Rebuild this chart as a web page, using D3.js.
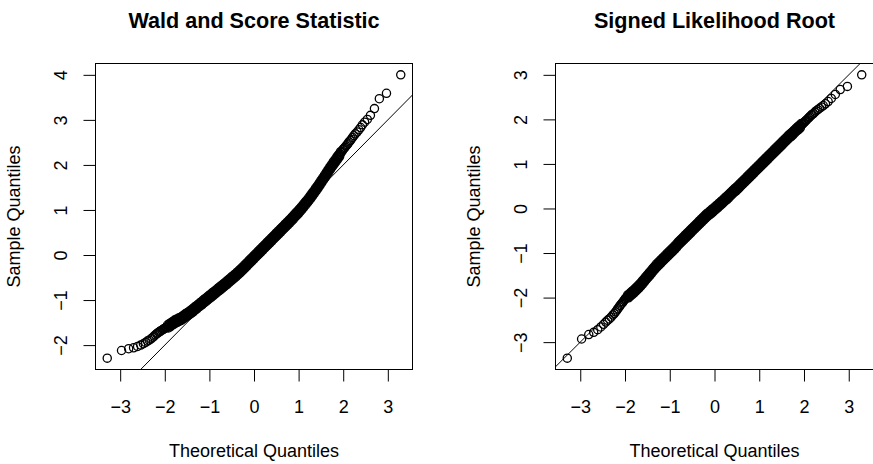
<html>

<head>
    <meta charset="utf-8">
    <script src="https://d3js.org/d3.v7.min.js"></script>
    <style>
        body {
            margin: 0;
            background: #fff;
        }

        svg text {
            font-family: "Liberation Sans", Arial, Helvetica, sans-serif;
        }
    </style>
</head>

<body>
    <svg id="qq_svg" width="873" height="464"></svg>
    <script>
        // titles, ticks and the [theoretical, sample] quantile pairs
        const titles = ["Wald and Score Statistic", "Signed Likelihood Root"];
        const xLabel = "Theoretical Quantiles";
        const yLabel = "Sample Quantiles";
        const xTicks = [-3, -2, -1, 0, 1, 2, 3];
        const waldYTicks = [-2, -1, 0, 1, 2, 3, 4];
        const slrYTicks = [-3, -2, -1, 0, 1, 2, 3];

        const waldPoints = [
            [-3.29, -2.29], [-2.97, -2.12], [-2.81, -2.08], [-2.70, -2.06], [-2.61, -2.03], [-2.54, -2.00], [-2.48, -1.97], [-2.43, -1.94],
            [-2.39, -1.91], [-2.35, -1.89], [-2.31, -1.86], [-2.27, -1.83], [-2.24, -1.80], [-2.21, -1.77], [-2.18, -1.75], [-2.16, -1.73],
            [-2.13, -1.71], [-2.11, -1.70], [-2.09, -1.68], [-2.06, -1.67], [-2.04, -1.65], [-2.02, -1.64], [-2.00, -1.63], [-1.99, -1.62],
            [-1.97, -1.61],
            [-1.95, -1.60], [-1.93, -1.59], [-1.91, -1.57], [-1.89, -1.56], [-1.87, -1.55], [-1.85, -1.53], [-1.83, -1.52], [-1.81, -1.51],
            [-1.79, -1.49], [-1.77, -1.48], [-1.75, -1.47], [-1.73, -1.46], [-1.71, -1.45], [-1.69, -1.44], [-1.67, -1.43], [-1.65, -1.42],
            [-1.63, -1.41], [-1.61, -1.40], [-1.59, -1.38], [-1.57, -1.37], [-1.55, -1.35], [-1.53, -1.34], [-1.51, -1.33], [-1.49, -1.31],
            [-1.47, -1.30], [-1.45, -1.29], [-1.43, -1.27], [-1.41, -1.26], [-1.39, -1.24], [-1.37, -1.23], [-1.35, -1.21], [-1.33, -1.19],
            [-1.31, -1.18], [-1.29, -1.16], [-1.27, -1.15], [-1.25, -1.13], [-1.23, -1.11], [-1.21, -1.10], [-1.19, -1.08], [-1.17, -1.07],
            [-1.15, -1.05], [-1.13, -1.03], [-1.11, -1.02], [-1.09, -1.00], [-1.07, -0.99], [-1.05, -0.97], [-1.03, -0.95], [-1.01, -0.94],
            [-0.99, -0.92], [-0.97, -0.91], [-0.95, -0.89], [-0.93, -0.87], [-0.91, -0.86], [-0.89, -0.84], [-0.87, -0.83], [-0.85, -0.81],
            [-0.83, -0.79], [-0.81, -0.78], [-0.79, -0.76], [-0.77, -0.75], [-0.75, -0.73], [-0.73, -0.71], [-0.71, -0.70], [-0.69, -0.68],
            [-0.67, -0.67], [-0.65, -0.65], [-0.63, -0.63], [-0.61, -0.62], [-0.59, -0.60], [-0.57, -0.58], [-0.55, -0.57], [-0.53, -0.55],
            [-0.51, -0.53], [-0.49, -0.51], [-0.47, -0.50], [-0.45, -0.48], [-0.43, -0.47], [-0.41, -0.45], [-0.39, -0.43], [-0.37, -0.41],
            [-0.35, -0.39], [-0.33, -0.38], [-0.31, -0.36], [-0.29, -0.34], [-0.27, -0.32], [-0.25, -0.30], [-0.23, -0.28], [-0.21, -0.26],
            [-0.19, -0.24], [-0.17, -0.22], [-0.15, -0.20], [-0.13, -0.18], [-0.11, -0.16], [-0.09, -0.14], [-0.07, -0.12], [-0.05, -0.10],
            [-0.03, -0.08], [-0.01, -0.06], [0.01, -0.04], [0.03, -0.02], [0.05, 0.00], [0.07, 0.02], [0.09, 0.04], [0.11, 0.06],
            [0.13, 0.08], [0.15, 0.10], [0.17, 0.12], [0.19, 0.14], [0.21, 0.16], [0.23, 0.18], [0.25, 0.20], [0.27, 0.22],
            [0.29, 0.24], [0.31, 0.26], [0.33, 0.28], [0.35, 0.30], [0.37, 0.32], [0.39, 0.34], [0.41, 0.36], [0.43, 0.38],
            [0.45, 0.40], [0.47, 0.42], [0.49, 0.44], [0.51, 0.46], [0.53, 0.48], [0.55, 0.50], [0.57, 0.52], [0.59, 0.54],
            [0.61, 0.56], [0.63, 0.58], [0.65, 0.60], [0.67, 0.62], [0.69, 0.64], [0.71, 0.66], [0.73, 0.68], [0.75, 0.70],
            [0.77, 0.72], [0.79, 0.74], [0.81, 0.76], [0.83, 0.78], [0.85, 0.80], [0.87, 0.82], [0.89, 0.84], [0.91, 0.87],
            [0.93, 0.89], [0.95, 0.91], [0.97, 0.93], [0.99, 0.95], [1.01, 0.97], [1.03, 1.00], [1.05, 1.02], [1.07, 1.04],
            [1.09, 1.07], [1.11, 1.09], [1.13, 1.12], [1.15, 1.14], [1.17, 1.16], [1.19, 1.19], [1.21, 1.21], [1.23, 1.24],
            [1.25, 1.27], [1.27, 1.29], [1.29, 1.32], [1.31, 1.35], [1.33, 1.37], [1.35, 1.40], [1.37, 1.43], [1.39, 1.46],
            [1.41, 1.48], [1.43, 1.51], [1.45, 1.54], [1.47, 1.57], [1.49, 1.60], [1.51, 1.63], [1.53, 1.66], [1.55, 1.69],
            [1.57, 1.72], [1.59, 1.75], [1.61, 1.78], [1.63, 1.81], [1.65, 1.84], [1.67, 1.87], [1.69, 1.90], [1.71, 1.93],
            [1.73, 1.96], [1.75, 1.99], [1.77, 2.02], [1.79, 2.05], [1.81, 2.07], [1.83, 2.10], [1.85, 2.13], [1.87, 2.16],
            [1.89, 2.18], [1.91, 2.21], [1.93, 2.24], [1.95, 2.27],
            [1.97, 2.30], [1.99, 2.33], [2.00, 2.35], [2.02, 2.37], [2.04, 2.39], [2.06, 2.42], [2.09, 2.45], [2.11, 2.48],
            [2.13, 2.51], [2.16, 2.54], [2.18, 2.57], [2.21, 2.61], [2.24, 2.65], [2.27, 2.69], [2.31, 2.73], [2.35, 2.78],
            [2.39, 2.83], [2.43, 2.89], [2.48, 2.95], [2.54, 3.01], [2.61, 3.10], [2.70, 3.25], [2.81, 3.47], [2.97, 3.59],
            [3.29, 4.00]
        ];

        // points in the thick middle of the band, scattered above and below its centre
        const waldMid = [
            [-1.94, -1.555], [-1.92, -1.62], [-1.90, -1.525], [-1.88, -1.595], [-1.86, -1.50], [-1.84, -1.565], [-1.82, -1.475], [-1.80, -1.54],
            [-1.78, -1.445], [-1.76, -1.515], [-1.74, -1.425], [-1.72, -1.495], [-1.70, -1.405], [-1.68, -1.475], [-1.66, -1.385], [-1.64, -1.455],
            [-1.62, -1.365], [-1.60, -1.43], [-1.58, -1.335], [-1.56, -1.40], [-1.54, -1.305], [-1.52, -1.375], [-1.50, -1.28], [-1.48, -1.345],
            [-1.46, -1.255], [-1.44, -1.32], [-1.42, -1.225], [-1.40, -1.29], [-1.38, -1.195], [-1.36, -1.26], [-1.34, -1.16], [-1.32, -1.225],
            [-1.30, -1.13], [-1.28, -1.195], [-1.26, -1.10], [-1.24, -1.16], [-1.22, -1.065], [-1.20, -1.13], [-1.18, -1.035], [-1.16, -1.10],
            [-1.14, -1.00], [-1.12, -1.065], [-1.10, -0.97], [-1.08, -1.035], [-1.06, -0.94], [-1.04, -1.00], [-1.02, -0.905], [-1.00, -0.97],
            [-0.98, -0.875], [-0.96, -0.94], [-0.94, -0.84], [-0.92, -0.905], [-0.90, -0.81], [-0.88, -0.875], [-0.86, -0.78], [-0.84, -0.84],
            [-0.82, -0.745], [-0.80, -0.81], [-0.78, -0.715], [-0.76, -0.78], [-0.74, -0.68], [-0.72, -0.745], [-0.70, -0.65], [-0.68, -0.715],
            [-0.66, -0.62], [-0.64, -0.68], [-0.62, -0.585], [-0.60, -0.65], [-0.58, -0.55], [-0.56, -0.615], [-0.54, -0.52], [-0.52, -0.58],
            [-0.50, -0.48], [-0.48, -0.545], [-0.46, -0.45], [-0.44, -0.515], [-0.42, -0.42], [-0.40, -0.48], [-0.38, -0.38], [-0.36, -0.44],
            [-0.34, -0.345], [-0.32, -0.41], [-0.30, -0.31], [-0.28, -0.37], [-0.26, -0.27], [-0.24, -0.33], [-0.22, -0.23], [-0.20, -0.29],
            [-0.18, -0.19], [-0.16, -0.25], [-0.14, -0.15], [-0.12, -0.21], [-0.10, -0.11], [-0.08, -0.17], [-0.06, -0.07], [-0.04, -0.13],
            [-0.02, -0.03], [0.00, -0.09], [0.02, 0.01], [0.04, -0.05], [0.06, 0.05], [0.08, -0.01], [0.10, 0.09], [0.12, 0.03],
            [0.14, 0.13], [0.16, 0.07], [0.18, 0.17], [0.20, 0.11], [0.22, 0.21], [0.24, 0.15], [0.26, 0.25], [0.28, 0.19],
            [0.30, 0.29], [0.32, 0.23], [0.34, 0.33], [0.36, 0.27], [0.38, 0.37], [0.40, 0.31], [0.42, 0.41], [0.44, 0.35],
            [0.46, 0.45], [0.48, 0.39], [0.50, 0.49], [0.52, 0.43], [0.54, 0.53], [0.56, 0.47], [0.58, 0.57], [0.60, 0.51],
            [0.62, 0.61], [0.64, 0.55], [0.66, 0.65], [0.68, 0.59], [0.70, 0.69], [0.72, 0.63], [0.74, 0.73], [0.76, 0.67],
            [0.78, 0.77], [0.80, 0.71], [0.82, 0.81], [0.84, 0.75], [0.86, 0.85], [0.88, 0.79], [0.90, 0.895], [0.92, 0.84],
            [0.94, 0.94], [0.96, 0.88], [0.98, 0.98], [1.00, 0.92], [1.02, 1.025], [1.04, 0.97], [1.06, 1.07], [1.08, 1.015],
            [1.10, 1.12], [1.12, 1.065], [1.14, 1.17], [1.16, 1.11], [1.18, 1.215], [1.20, 1.16], [1.22, 1.265], [1.24, 1.215],
            [1.26, 1.32], [1.28, 1.265], [1.30, 1.375], [1.32, 1.32], [1.34, 1.425], [1.36, 1.375], [1.38, 1.485], [1.40, 1.43],
            [1.42, 1.535], [1.44, 1.485], [1.46, 1.595], [1.48, 1.545], [1.50, 1.655], [1.52, 1.605], [1.54, 1.715], [1.56, 1.665],
            [1.58, 1.775], [1.60, 1.725], [1.62, 1.835], [1.64, 1.785], [1.66, 1.895], [1.68, 1.845], [1.70, 1.955], [1.72, 1.905],
            [1.74, 2.015], [1.76, 1.965], [1.78, 2.075], [1.80, 2.02], [1.82, 2.125], [1.84, 2.075], [1.86, 2.185], [1.88, 2.13],
            [1.90, 2.235], [1.92, 2.185], [1.94, 2.295]
        ];

        const slrPoints = [
            [-3.29, -3.36], [-2.97, -2.93], [-2.81, -2.83], [-2.70, -2.78], [-2.61, -2.72], [-2.54, -2.66], [-2.48, -2.60], [-2.43, -2.55],
            [-2.39, -2.51], [-2.35, -2.48], [-2.31, -2.44], [-2.27, -2.39], [-2.24, -2.36], [-2.21, -2.32], [-2.18, -2.28], [-2.16, -2.25],
            [-2.13, -2.21], [-2.11, -2.18], [-2.09, -2.15], [-2.06, -2.12], [-2.04, -2.09], [-2.02, -2.06], [-2.00, -2.04], [-1.99, -2.02],
            [-1.97, -2.00],
            [-1.95, -1.99], [-1.93, -1.97], [-1.91, -1.96], [-1.89, -1.94], [-1.87, -1.92], [-1.85, -1.90], [-1.83, -1.89], [-1.81, -1.87],
            [-1.79, -1.85], [-1.77, -1.83], [-1.75, -1.81], [-1.73, -1.79], [-1.71, -1.77], [-1.69, -1.75], [-1.67, -1.73], [-1.65, -1.71],
            [-1.63, -1.68], [-1.61, -1.66], [-1.59, -1.64], [-1.57, -1.61], [-1.55, -1.59], [-1.53, -1.56], [-1.51, -1.54], [-1.49, -1.52],
            [-1.47, -1.49], [-1.45, -1.47], [-1.43, -1.45], [-1.41, -1.42], [-1.39, -1.40], [-1.37, -1.37], [-1.35, -1.35], [-1.33, -1.33],
            [-1.31, -1.30], [-1.29, -1.28], [-1.27, -1.26], [-1.25, -1.24], [-1.23, -1.22], [-1.21, -1.20], [-1.19, -1.18], [-1.17, -1.16],
            [-1.15, -1.14], [-1.13, -1.12], [-1.11, -1.10], [-1.09, -1.08], [-1.07, -1.06], [-1.05, -1.04], [-1.03, -1.02], [-1.01, -1.00],
            [-0.99, -0.98], [-0.97, -0.96], [-0.95, -0.94], [-0.93, -0.92], [-0.91, -0.90], [-0.89, -0.88], [-0.87, -0.86], [-0.85, -0.84],
            [-0.83, -0.81], [-0.81, -0.79], [-0.79, -0.77], [-0.77, -0.75], [-0.75, -0.73], [-0.73, -0.71], [-0.71, -0.69], [-0.69, -0.67],
            [-0.67, -0.65], [-0.65, -0.63], [-0.63, -0.61], [-0.61, -0.59], [-0.59, -0.57], [-0.57, -0.55], [-0.55, -0.53], [-0.53, -0.51],
            [-0.51, -0.49], [-0.49, -0.47], [-0.47, -0.45], [-0.45, -0.43], [-0.43, -0.41], [-0.41, -0.39], [-0.39, -0.37], [-0.37, -0.35],
            [-0.35, -0.33], [-0.33, -0.31], [-0.31, -0.29], [-0.29, -0.27], [-0.27, -0.25], [-0.25, -0.23], [-0.23, -0.21], [-0.21, -0.19],
            [-0.19, -0.17], [-0.17, -0.15], [-0.15, -0.14], [-0.13, -0.12], [-0.11, -0.10], [-0.09, -0.09], [-0.07, -0.07], [-0.05, -0.05],
            [-0.03, -0.04], [-0.01, -0.02], [0.01, 0.00], [0.03, 0.02], [0.05, 0.03], [0.07, 0.05], [0.09, 0.07], [0.11, 0.09],
            [0.13, 0.11], [0.15, 0.12], [0.17, 0.14], [0.19, 0.16], [0.21, 0.18], [0.23, 0.20], [0.25, 0.22], [0.27, 0.23],
            [0.29, 0.25], [0.31, 0.27], [0.33, 0.29], [0.35, 0.31], [0.37, 0.33], [0.39, 0.35], [0.41, 0.37], [0.43, 0.39],
            [0.45, 0.41], [0.47, 0.42], [0.49, 0.44], [0.51, 0.46], [0.53, 0.48], [0.55, 0.50], [0.57, 0.52], [0.59, 0.54],
            [0.61, 0.56], [0.63, 0.58], [0.65, 0.60], [0.67, 0.62], [0.69, 0.64], [0.71, 0.66], [0.73, 0.68], [0.75, 0.70],
            [0.77, 0.72], [0.79, 0.74], [0.81, 0.76], [0.83, 0.78], [0.85, 0.80], [0.87, 0.82], [0.89, 0.84], [0.91, 0.86],
            [0.93, 0.88], [0.95, 0.90], [0.97, 0.92], [0.99, 0.94], [1.01, 0.96], [1.03, 0.98], [1.05, 1.00], [1.07, 1.02],
            [1.09, 1.04], [1.11, 1.06], [1.13, 1.08], [1.15, 1.10], [1.17, 1.12], [1.19, 1.14], [1.21, 1.16], [1.23, 1.18],
            [1.25, 1.20], [1.27, 1.22], [1.29, 1.24], [1.31, 1.26], [1.33, 1.28], [1.35, 1.30], [1.37, 1.32], [1.39, 1.34],
            [1.41, 1.36], [1.43, 1.38], [1.45, 1.40], [1.47, 1.42], [1.49, 1.44], [1.51, 1.46], [1.53, 1.48], [1.55, 1.50],
            [1.57, 1.52], [1.59, 1.54], [1.61, 1.56], [1.63, 1.58], [1.65, 1.60], [1.67, 1.62], [1.69, 1.64], [1.71, 1.65],
            [1.73, 1.67], [1.75, 1.69], [1.77, 1.71], [1.79, 1.73], [1.81, 1.75], [1.83, 1.77], [1.85, 1.79], [1.87, 1.80],
            [1.89, 1.82], [1.91, 1.84], [1.93, 1.86], [1.95, 1.88],
            [1.97, 1.90], [1.99, 1.92], [2.00, 1.93], [2.02, 1.95], [2.04, 1.97], [2.06, 1.99], [2.09, 2.02], [2.11, 2.04],
            [2.13, 2.06], [2.16, 2.09], [2.18, 2.11], [2.21, 2.13], [2.24, 2.16], [2.27, 2.19], [2.31, 2.22], [2.35, 2.25],
            [2.39, 2.28], [2.43, 2.31], [2.48, 2.35], [2.54, 2.40], [2.61, 2.47], [2.70, 2.56], [2.81, 2.67], [2.97, 2.74],
            [3.29, 3.00]
        ];

        const slrMid = [
            [-1.94, -1.94], [-1.92, -2.005], [-1.90, -1.91], [-1.88, -1.97], [-1.86, -1.87], [-1.84, -1.935], [-1.82, -1.84], [-1.80, -1.90],
            [-1.78, -1.80], [-1.76, -1.86], [-1.74, -1.76], [-1.72, -1.82], [-1.70, -1.72], [-1.68, -1.78], [-1.66, -1.68], [-1.64, -1.735],
            [-1.62, -1.63], [-1.60, -1.69], [-1.58, -1.585], [-1.56, -1.64], [-1.54, -1.535], [-1.52, -1.59], [-1.50, -1.49], [-1.48, -1.545],
            [-1.46, -1.44], [-1.44, -1.50], [-1.42, -1.395], [-1.40, -1.45], [-1.38, -1.345], [-1.36, -1.40], [-1.34, -1.30], [-1.32, -1.355],
            [-1.30, -1.25], [-1.28, -1.31], [-1.26, -1.21], [-1.24, -1.27], [-1.22, -1.17], [-1.20, -1.23], [-1.18, -1.13], [-1.16, -1.19],
            [-1.14, -1.09], [-1.12, -1.15], [-1.10, -1.05], [-1.08, -1.11], [-1.06, -1.01], [-1.04, -1.07], [-1.02, -0.97], [-1.00, -1.03],
            [-0.98, -0.93], [-0.96, -0.99], [-0.94, -0.89], [-0.92, -0.95], [-0.90, -0.85], [-0.88, -0.91], [-0.86, -0.81], [-0.84, -0.865],
            [-0.82, -0.76], [-0.80, -0.82], [-0.78, -0.72], [-0.76, -0.78], [-0.74, -0.68], [-0.72, -0.74], [-0.70, -0.64], [-0.68, -0.70],
            [-0.66, -0.60], [-0.64, -0.66], [-0.62, -0.56], [-0.60, -0.62], [-0.58, -0.52], [-0.56, -0.58], [-0.54, -0.48], [-0.52, -0.54],
            [-0.50, -0.44], [-0.48, -0.50], [-0.46, -0.40], [-0.44, -0.46], [-0.42, -0.36], [-0.40, -0.42], [-0.38, -0.32], [-0.36, -0.38],
            [-0.34, -0.28], [-0.32, -0.34], [-0.30, -0.24], [-0.28, -0.30], [-0.26, -0.20], [-0.24, -0.26], [-0.22, -0.16], [-0.20, -0.22],
            [-0.18, -0.12], [-0.16, -0.185], [-0.14, -0.09], [-0.12, -0.15], [-0.10, -0.055], [-0.08, -0.12], [-0.06, -0.02], [-0.04, -0.085],
            [-0.02, 0.01], [0.00, -0.05], [0.02, 0.05], [0.04, -0.015], [0.06, 0.08], [0.08, 0.02], [0.10, 0.12], [0.12, 0.06],
            [0.14, 0.155], [0.16, 0.09], [0.18, 0.19], [0.20, 0.13], [0.22, 0.23], [0.24, 0.17], [0.26, 0.265], [0.28, 0.20],
            [0.30, 0.30], [0.32, 0.24], [0.34, 0.34], [0.36, 0.28], [0.38, 0.38], [0.40, 0.32], [0.42, 0.42], [0.44, 0.36],
            [0.46, 0.455], [0.48, 0.39], [0.50, 0.49], [0.52, 0.43], [0.54, 0.53], [0.56, 0.47], [0.58, 0.57], [0.60, 0.51],
            [0.62, 0.61], [0.64, 0.55], [0.66, 0.65], [0.68, 0.59], [0.70, 0.69], [0.72, 0.63], [0.74, 0.73], [0.76, 0.67],
            [0.78, 0.77], [0.80, 0.71], [0.82, 0.81], [0.84, 0.75], [0.86, 0.85], [0.88, 0.79], [0.90, 0.89], [0.92, 0.83],
            [0.94, 0.93], [0.96, 0.87], [0.98, 0.97], [1.00, 0.91], [1.02, 1.01], [1.04, 0.95], [1.06, 1.05], [1.08, 0.99],
            [1.10, 1.09], [1.12, 1.03], [1.14, 1.13], [1.16, 1.07], [1.18, 1.17], [1.20, 1.11], [1.22, 1.21], [1.24, 1.15],
            [1.26, 1.25], [1.28, 1.19], [1.30, 1.29], [1.32, 1.23], [1.34, 1.33], [1.36, 1.27], [1.38, 1.37], [1.40, 1.31],
            [1.42, 1.41], [1.44, 1.35], [1.46, 1.45], [1.48, 1.39], [1.50, 1.49], [1.52, 1.43], [1.54, 1.53], [1.56, 1.47],
            [1.58, 1.57], [1.60, 1.51], [1.62, 1.61], [1.64, 1.55], [1.66, 1.65], [1.68, 1.59], [1.70, 1.685], [1.72, 1.62],
            [1.74, 1.72], [1.76, 1.66], [1.78, 1.76], [1.80, 1.70], [1.82, 1.80], [1.84, 1.74], [1.86, 1.835], [1.88, 1.77],
            [1.90, 1.87], [1.92, 1.81], [1.94, 1.91]
        ];

        // reference line y = a + b*x (abline)
        const refLine = { intercept: 0, slope: 1 };

        const svg = d3.select("#qq_svg");
        const plotTop = 63.5, plotBottom = 369.5;
        const panels = [
            { title: titles[0], points: waldPoints.concat(waldMid), yTicks: waldYTicks, left: 95.5, right: 412.5 },
            { title: titles[1], points: slrPoints.concat(slrMid), yTicks: slrYTicks, left: 555.5, right: 873.5 }
        ];

        // R pads the data range by 4% on each side
        function padRange(vals) {
            const ext = d3.extent(vals);
            const d = (ext[1] - ext[0]) * 0.04;
            return [ext[0] - d, ext[1] + d];
        }

        const fmt = d3.format("d");

        panels.forEach((p, i) => {
            const xScale = d3.scaleLinear().domain(padRange(p.points.map(d => d[0]))).range([p.left, p.right]);
            const yScale = d3.scaleLinear().domain(padRange(p.points.map(d => d[1]))).range([plotBottom, plotTop]);
            const midX = (p.left + p.right) / 2;

            const g = svg.append("g");

            g.append("clipPath").attr("id", "clip" + i)
                .append("rect")
                .attr("x", p.left).attr("y", plotTop)
                .attr("width", p.right - p.left).attr("height", plotBottom - plotTop);

            // points
            g.append("g")
                .selectAll("circle")
                .data(p.points)
                .join("circle")
                .attr("cx", d => xScale(d[0]))
                .attr("cy", d => yScale(d[1]))
                .attr("r", 4.1)
                .attr("fill", "none")
                .attr("stroke", "black")
                .attr("stroke-width", 1.3);

            // reference line
            const xd = xScale.domain();
            g.append("line")
                .attr("clip-path", "url(#clip" + i + ")")
                .attr("x1", xScale(xd[0])).attr("y1", yScale(refLine.intercept + refLine.slope * xd[0]))
                .attr("x2", xScale(xd[1])).attr("y2", yScale(refLine.intercept + refLine.slope * xd[1]))
                .attr("stroke", "black")
                .attr("stroke-width", 1);

            // box
            g.append("rect")
                .attr("x", p.left).attr("y", plotTop)
                .attr("width", p.right - p.left).attr("height", plotBottom - plotTop)
                .attr("fill", "none")
                .attr("stroke", "black")
                .attr("stroke-width", 1);

            // x axis
            let bottomAxis = d3.axisBottom(xScale).tickValues(xTicks).tickSize(12).tickFormat(fmt);
            let xa = g.append("g")
                .attr("transform", "translate(0," + plotBottom + ")")
                .call(bottomAxis);
            xa.select(".domain").remove();
            xa.selectAll("text")
                .attr("y", 43).attr("dy", 0)
                .attr("font-size", 18).attr("font-family", null)
                .attr("fill", "black");

            // y axis, labels parallel to the axis
            let leftAxis = d3.axisLeft(yScale).tickValues(p.yTicks).tickSize(12).tickFormat(fmt);
            let ya = g.append("g")
                .attr("transform", "translate(" + p.left + ",0)")
                .call(leftAxis);
            ya.select(".domain").remove();
            ya.selectAll("text")
                .attr("x", 0).attr("y", -28.5).attr("dy", 0)
                .attr("transform", "rotate(-90)")
                .attr("text-anchor", "middle")
                .attr("font-size", 18).attr("font-family", null)
                .attr("fill", "black");

            // title and labels
            g.append("text")
                .attr("x", midX).attr("y", 28)
                .attr("text-anchor", "middle")
                .attr("font-size", 21.6)
                .attr("font-weight", "bold")
                .text(p.title);

            g.append("text")
                .attr("x", midX).attr("y", 457)
                .attr("text-anchor", "middle")
                .attr("font-size", 18)
                .text(xLabel);

            g.append("text")
                .attr("transform", "translate(" + (p.left - 75.5) + "," + ((plotTop + plotBottom) / 2) + ") rotate(-90)")
                .attr("text-anchor", "middle")
                .attr("font-size", 18)
                .text(yLabel);
        });
    </script>
</body>

</html>
